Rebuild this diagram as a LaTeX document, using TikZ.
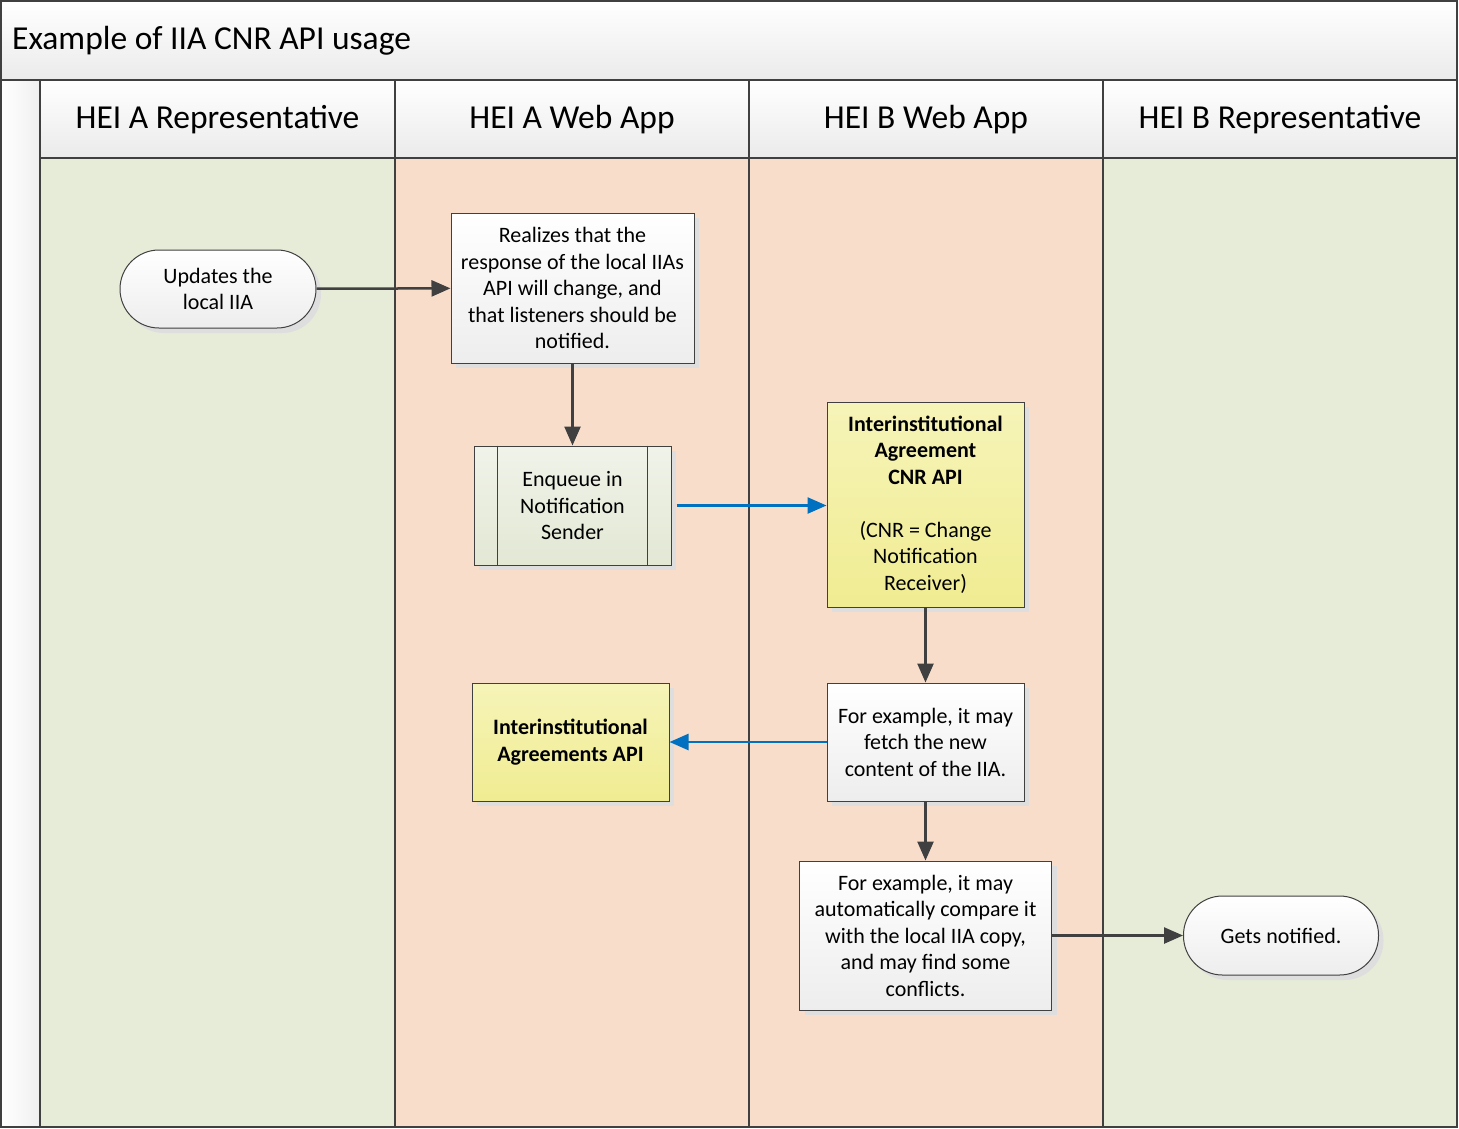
\documentclass[tikz,border=0pt]{standalone}
\usepackage{fontspec}
\setmainfont{Carlito}
\usepackage{tikz}
\usetikzlibrary{arrows.meta,positioning,shadows}
\definecolor{lanegreen}{RGB}{230,236,216}
\definecolor{laneorange}{RGB}{248,221,203}
\definecolor{cblue}{RGB}{0,112,192}
\definecolor{cline}{RGB}{64,64,64}
\definecolor{ytop}{RGB}{246,244,184}
\definecolor{ybot}{RGB}{240,236,146}
\definecolor{gtop}{RGB}{240,243,233}
\definecolor{gbot}{RGB}{226,232,212}
\tikzset{
  txt/.style={font=\fontsize{22}{26.5}\selectfont,align=center,inner sep=0pt},
  shad/.style={drop shadow={shadow xshift=5pt,shadow yshift=-5pt,
    fill=black!13,opacity=1}},
  box/.style={txt,rectangle,draw=cline,line width=1pt,shad,
    top color=white,bottom color=black!7},
  termbox/.style={box,rounded corners=39pt,minimum width=196pt,minimum height=78pt},
  procbox/.style={box,top color=gtop,bottom color=gbot},
  apibox/.style={box,top color=ytop,bottom color=ybot,font=\fontsize{22}{26.5}\selectfont\bfseries},
  lanehead/.style={font=\fontsize{33.5}{38}\selectfont,inner sep=0pt},
  % lane borders and connectors
  laneline/.style={draw=cline,line width=2pt},
  arr/.style={-{Triangle[length=19pt,width=16pt]},line width=2.5pt,draw=cline},
  bluearr/.style={arr,draw=cblue}
}

\begin{document}
\begin{tikzpicture}[x=1pt,y=-1pt]
  \useasboundingbox (0,0) rectangle (1459,1128);
  % pool and lanes
  \shade[top color=white,bottom color=black!8] (1,1) rectangle (1457,80);
  \shade[left color=white,right color=black!6] (1,80) rectangle (40,1127);
  \shade[top color=white,bottom color=black!8] (40,80) rectangle (1457,158);
  \fill[lanegreen] (40,158) rectangle (395,1127);
  \fill[laneorange] (395,158) rectangle (1103,1127);
  \fill[lanegreen] (1103,158) rectangle (1457,1127);
  \draw[laneline] (1,80) -- (1457,80);
  \draw[laneline] (40,158) -- (1457,158);
  \foreach \x in {40,395,749,1103}
    \draw[laneline] (\x,80) -- (\x,1127);
  \draw[laneline] (1,1) rectangle (1457,1127);

  \node[font=\fontsize{33.5}{38}\selectfont,anchor=west,inner sep=0pt] (title) at (12,41) {Example of IIA CNR API usage};
  \node[lanehead] (ha) at (217.5,120) {HEI A Representative};
  \node[lanehead] (wa) at (572,120) {HEI A Web App};
  \node[lanehead] (wb) at (926,120) {HEI B Web App};
  \node[lanehead] (hb) at (1280,120) {HEI B Representative};

  % steps
  \node[termbox] (upd) at (218,289) {Updates the\\local IIA};
  \node[box,minimum width=243pt,minimum height=150pt] (real) at (572.5,288)
    {Realizes that the\\response of the local IIAs\\API will change, and\\that listeners should be\\notified.};
  \node[procbox,minimum width=197pt,minimum height=119pt,below=82pt of real] (enq)
    {Enqueue in\\Notification\\Sender};
  \draw[cline,line width=1pt] ([xshift=24pt]enq.north west) -- ([xshift=24pt]enq.south west);
  \draw[cline,line width=1pt] ([xshift=-24pt]enq.north east) -- ([xshift=-24pt]enq.south east);
  \node[apibox,minimum width=197pt,minimum height=205pt] (cnr) at (925.5,504.5)
    {Interinstitutional\\Agreement\\CNR API\\[26.5pt]\mdseries(CNR = Change\\\mdseries Notification\\\mdseries Receiver)};
  \node[box,minimum width=197pt,minimum height=118pt,below=75pt of cnr] (fetch)
    {For example, it may\\fetch the new\\content of the IIA.};
  \node[apibox,minimum width=197pt,minimum height=118pt,left=157pt of fetch] (iaapi)
    {Interinstitutional\\Agreements API};
  \node[box,minimum width=252pt,minimum height=149pt,below=59pt of fetch] (cmp)
    {For example, it may\\automatically compare it\\with the local IIA copy,\\and may find some\\conflicts.};
  \node[termbox,minimum width=195pt,minimum height=79pt,right=131pt of cmp] (got)
    {Gets notified.};

  \draw[arr] (upd) -- (real);
  \draw[arr] (real) -- (enq);
  \draw[bluearr] ([xshift=5pt]enq.east) -- (cnr.west |- enq.east);
  \draw[arr] (cnr) -- (fetch);
  \draw[bluearr] (fetch) -- (iaapi);
  \draw[arr] (fetch) -- (cmp);
  \draw[arr] (cmp) -- (got);
\end{tikzpicture}
\end{document}
